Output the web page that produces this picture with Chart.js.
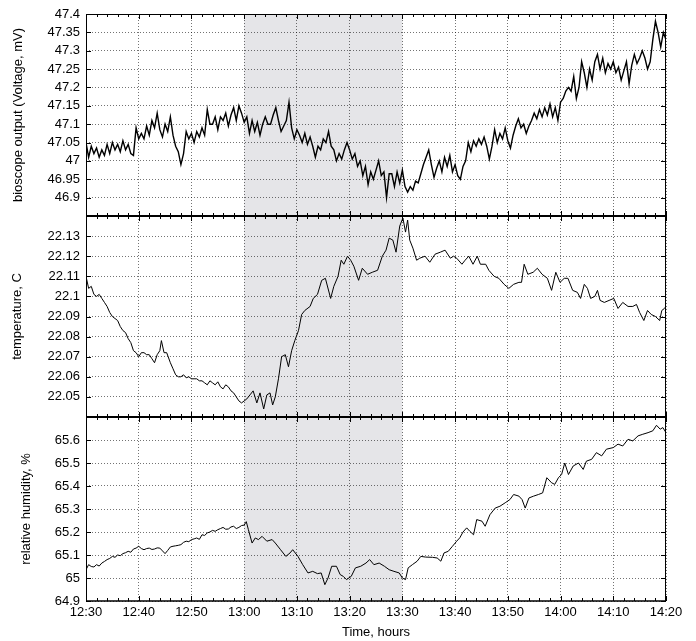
<!DOCTYPE html>
<html><head><meta charset="utf-8">
<script src="https://cdn.jsdelivr.net/npm/chart.js@4.4.0/dist/chart.umd.min.js"></script>
<style>
html,body{margin:0;padding:0;background:#fff;}
#wrap{position:relative;width:696px;height:641px;background:#fff;}
canvas{position:absolute;left:0;top:0;}
</style></head><body>
<div id="wrap">
<canvas id="c1" width="696" height="641"></canvas>
<canvas id="c2" width="696" height="641"></canvas>
<canvas id="c3" width="696" height="641"></canvas>
</div>
<script>
// ---- x axis (minutes after 12:30) ----
const xTickValues = [0,10,20,30,40,50,60,70,80,90,100,110];
const xTickLabels = ['12:30','12:40','12:50','13:00','13:10','13:20','13:30','13:40','13:50','14:00','14:10','14:20'];
const shadeStart = 30, shadeEnd = 60;   // 13:00 - 13:30
const minorStep = 2;

// ---- bioscope output (mV) ----
const voltTime = [0,0.5,1,1.5,2,2.5,3,3.5,4,4.5,5,5.5,6,6.5,7,7.5,8,8.5,9,9.5,10,10.5,11,11.5,12,12.5,13,13.5,14,14.5,15,15.5,16,16.5,17,17.5,18,18.5,19,19.5,20,20.5,21,21.5,22,22.5,23,23.5,24,24.5,25,25.5,26,26.5,27,27.5,28,28.5,29,29.5,30,30.5,31,31.5,32,32.5,33,33.5,34,34.5,35,35.5,36,36.5,37,37.5,38,38.5,39,39.5,40,40.5,41,41.5,42,42.5,43,43.5,44,44.5,45,45.5,46,46.5,47,47.5,48,48.5,49,49.5,50,50.5,51,51.5,52,52.5,53,53.5,54,54.5,55,55.5,56,56.5,57,57.5,58,58.5,59,59.5,60,60.5,61,61.5,62,62.5,63,63.5,64,64.5,65,65.5,66,66.5,67,67.5,68,68.5,69,69.5,70,70.5,71,71.5,72,72.5,73,73.5,74,74.5,75,75.5,76,76.5,77,77.5,78,78.5,79,79.5,80,80.5,81,81.5,82,82.5,83,83.5,84,84.5,85,85.5,86,86.5,87,87.5,88,88.5,89,89.5,90,90.5,91,91.5,92,92.5,93,93.5,94,94.5,95,95.5,96,96.5,97,97.5,98,98.5,99,99.5,100,100.5,101,101.5,102,102.5,103,103.5,104,104.5,105,105.5,106,106.5,107,107.5,108,108.5,109,109.5,110];
const voltValues = [
47.05,47.01,47.04,47.02,47.035,47.01,47.03,47.015,47.045,47.02,
47.05,47.03,47.045,47.025,47.055,47.03,47.045,47.02,47.015,47.09,
47.06,47.075,47.06,47.095,47.07,47.11,47.09,47.13,47.085,47.065,
47.1,47.08,47.12,47.07,47.04,47.025,46.99,47.02,47.08,47.06,
47.075,47.05,47.08,47.065,47.09,47.07,47.14,47.1,47.1,47.12,
47.085,47.12,47.11,47.13,47.095,47.125,47.145,47.11,47.15,47.13,
47.105,47.12,47.075,47.11,47.08,47.105,47.07,47.1,47.12,47.1,
47.1,47.125,47.145,47.11,47.08,47.095,47.11,47.16,47.09,47.06,
47.085,47.07,47.05,47.075,47.045,47.065,47.04,47.01,47.04,47.03,
47.06,47.05,47.08,47.04,47.03,47.0,47.02,47.005,47.03,47.05,
47.03,47.005,47.02,46.985,47.0,46.96,46.985,46.935,46.97,46.95,
46.975,47.0,46.96,46.97,46.9,46.965,46.965,46.93,46.97,46.94,
46.975,46.93,46.915,46.93,46.92,46.945,46.94,46.965,46.99,47.01,
47.03,46.99,46.955,46.98,47.0,46.97,47.01,46.985,47.015,46.97,
46.99,46.96,46.95,46.985,47.0,47.05,47.025,47.055,47.04,47.06,
47.045,47.065,47.04,47.005,47.04,47.085,47.05,47.075,47.06,47.09,
47.055,47.035,47.07,47.095,47.115,47.09,47.1,47.075,47.095,47.11,
47.13,47.115,47.14,47.12,47.145,47.125,47.155,47.12,47.145,47.11,
47.16,47.17,47.19,47.2,47.19,47.23,47.17,47.2,47.27,47.24,
47.2,47.25,47.22,47.27,47.29,47.25,47.28,47.24,47.265,47.25,
47.27,47.24,47.255,47.22,47.245,47.27,47.21,47.26,47.29,47.265,
47.28,47.3,47.28,47.25,47.27,47.33,47.38,47.35,47.31,47.35,
47.33];
const voltTicks = [46.9,46.95,47,47.05,47.1,47.15,47.2,47.25,47.3,47.35,47.4];

// ---- temperature, C ----
const tempTime = [0,0.5,1,1.5,2,2.5,3,3.5,4,4.5,5,5.5,6,6.5,7,7.5,8,8.5,9,9.5,10,10.5,11,11.5,12,12.5,13,13.5,14,14.3,14.8,15.3,16,16.5,17,17.5,18,18.5,19,19.5,20,20.5,21,21.5,22,22.5,23,23.5,24,24.5,25,25.5,26,26.5,27,27.5,28,28.5,29,29.5,30,30.5,31.1,31.7,32.4,33,33.7,34.3,34.9,35.4,35.9,36.5,37.1,37.8,38.4,39,39.6,40.3,40.9,41.5,42.5,43.1,43.9,44.7,45.4,46.4,47,47.8,48.4,48.9,49.6,50.2,50.8,51.7,52.4,53.4,54.3,55.3,56.2,56.9,57.5,58.2,58.8,59.5,60.1,60.6,61,61.4,62,62.7,63.3,64.3,65.2,66.2,67.2,68.1,69.1,69.7,70.3,71.3,71.9,72.6,73.4,74.2,74.8,75.8,76.4,77.4,78.3,79.3,80.2,81.1,82.1,82.6,83.1,83.8,84.8,85.6,86.5,87.5,88.3,89.1,89.9,90.7,91.4,92.3,93.2,93.8,94.5,95.1,95.7,96.5,97,97.5,98.3,99.2,100.1,100.9,101.8,102.8,103.7,104.4,105,105.8,106.5,107.2,108,108.8,109.2,109.7,110];
const tempValues = [22.110,22.104,22.105,22.101,22.100,22.101,22.099,22.097,22.095,22.092,22.090,22.089,22.088,22.085,22.083,22.082,22.079,22.077,22.073,22.072,22.070,22.072,22.072,22.071,22.071,22.069,22.067,22.071,22.073,22.078,22.072,22.072,22.067,22.064,22.061,22.060,22.060,22.061,22.0595,22.060,22.059,22.059,22.059,22.058,22.058,22.057,22.056,22.058,22.057,22.056,22.0575,22.055,22.054,22.056,22.055,22.053,22.052,22.050,22.048,22.047,22.048,22.049,22.051,22.053,22.047,22.052,22.044,22.051,22.052,22.046,22.050,22.059,22.070,22.071,22.065,22.073,22.078,22.083,22.091,22.093,22.095,22.099,22.101,22.108,22.109,22.099,22.105,22.110,22.118,22.116,22.120,22.118,22.115,22.108,22.114,22.111,22.112,22.113,22.120,22.123,22.129,22.128,22.122,22.135,22.139,22.132,22.138,22.128,22.124,22.118,22.119,22.120,22.117,22.121,22.122,22.123,22.119,22.120,22.119,22.116,22.118,22.120,22.116,22.120,22.116,22.116,22.113,22.110,22.109,22.106,22.104,22.106,22.107,22.107,22.116,22.111,22.112,22.114,22.111,22.109,22.103,22.112,22.107,22.109,22.109,22.103,22.102,22.099,22.106,22.104,22.099,22.100,22.103,22.098,22.097,22.098,22.099,22.094,22.097,22.095,22.095,22.096,22.092,22.088,22.093,22.091,22.090,22.088,22.093,22.094,22.095];
const tempTicks = [22.05,22.06,22.07,22.08,22.09,22.1,22.11,22.12,22.13];

// ---- relative humidity, % ----
const humTime = [0,0.5,1,1.5,2,2.5,3,3.5,4,4.5,5,5.5,6,6.5,7,7.5,8,8.5,9,9.5,10,10.5,11,11.5,12,12.5,13,13.5,14,14.5,15,15.5,16,16.5,17,17.5,18,18.5,19,19.5,20,20.5,21,21.5,22,22.5,23,23.5,24,24.5,25,25.5,26,26.5,27,27.5,28,28.5,29,29.5,30,30.4,30.8,31.5,32.1,32.7,33.4,34.3,35.3,35.9,36.9,37.9,38.7,39.2,40.2,41.1,42.1,43,43.9,44.6,45.3,45.9,46.6,47.5,48.2,48.8,49.4,50.3,51.1,52.1,53.1,53.8,54.6,55.6,56.6,57.5,58.4,59.4,60,60.6,61.1,61.9,62.8,63.5,64.4,65.7,66.6,67.3,67.9,68.7,69.5,70.3,70.9,71.5,72.2,72.8,73.5,74.1,75.1,75.7,76.6,77.6,78.5,79.5,80.4,81.1,82.1,82.7,83.3,84,84.9,85.8,86.6,87.4,88.3,88.9,89.6,90.2,90.8,91.5,92.4,93.4,94.3,94.9,95.9,96.8,97.8,98.7,100,100.9,101.8,102.8,103.7,104.7,105.6,106.6,107.5,108.2,108.9,109.4,110];
const humValues = [65.036,65.058,65.050,65.048,65.058,65.052,65.065,65.072,65.080,65.085,65.094,65.090,65.100,65.097,65.106,65.110,65.116,65.112,65.126,65.130,65.138,65.128,65.123,65.128,65.130,65.124,65.126,65.131,65.130,65.118,65.106,65.120,65.135,65.138,65.140,65.142,65.145,65.155,65.160,65.158,65.167,65.170,65.174,65.168,65.188,65.185,65.196,65.200,65.207,65.203,65.210,65.215,65.220,65.212,65.213,65.222,65.225,65.215,65.220,65.228,65.230,65.245,65.210,65.152,65.174,65.167,65.181,65.160,65.167,65.152,65.123,65.094,65.109,65.123,65.094,65.058,65.022,65.029,65.019,65.022,64.971,65.000,65.051,65.051,65.015,65.007,64.993,65.007,65.044,65.051,65.065,65.080,65.058,65.065,65.051,65.036,65.029,65.022,65.000,64.993,65.044,65.058,65.073,65.094,65.091,65.090,65.087,65.073,65.109,65.116,65.138,65.160,65.175,65.200,65.218,65.203,65.188,65.254,65.247,65.225,65.275,65.304,65.312,65.327,65.341,65.363,65.356,65.341,65.304,65.348,65.356,65.363,65.370,65.436,65.414,65.407,65.436,65.450,65.500,65.450,65.487,65.500,65.472,65.508,65.516,65.545,65.531,65.560,65.567,65.582,65.574,65.603,65.596,65.618,65.625,65.632,65.640,65.664,65.647,65.654,65.632];
const humTicks = [64.9,65,65.1,65.2,65.3,65.4,65.5,65.6];

const FONT = 'Liberation Sans, Arial, Helvetica, sans-serif';
Chart.defaults.font.family = FONT;
Chart.defaults.color = '#000';

const framePlugin = {
  id: 'frame',
  beforeDraw(chart) {
    const {ctx, chartArea: a, scales: {x}} = chart;
    const x0 = x.getPixelForValue(shadeStart), x1 = x.getPixelForValue(shadeEnd);
    ctx.save();
    ctx.fillStyle = '#e5e5e8';
    ctx.fillRect(x0, a.top, x1 - x0, a.bottom - a.top);
    ctx.restore();
  },
  afterDraw(chart) {
    const {ctx, chartArea: a, scales: {x, y}} = chart;
    const o = chart.options.plugins.frame;
    ctx.save();
    ctx.strokeStyle = '#000';
    ctx.lineWidth = 1;
    ctx.beginPath();
    for (let m = x.min; m <= x.max + 1e-9; m += minorStep) {
      const px = Math.round(x.getPixelForValue(m)) + 0.5;
      const len = (m % 10 === 0) ? 5 : 3;
      ctx.moveTo(px, a.top); ctx.lineTo(px, a.top + len);
      ctx.moveTo(px, a.bottom); ctx.lineTo(px, a.bottom - len);
    }
    y.ticks.forEach(t => {
      const py = Math.round(y.getPixelForValue(t.value)) + 0.5;
      ctx.moveTo(a.left, py); ctx.lineTo(a.left + 5, py);
      ctx.moveTo(a.right, py); ctx.lineTo(a.right - 5, py);
    });
    ctx.moveTo(a.left + 0.5, a.top); ctx.lineTo(a.left + 0.5, a.bottom);
    ctx.moveTo(a.right - 0.5, a.top); ctx.lineTo(a.right - 0.5, a.bottom);
    ctx.stroke();
    ctx.lineWidth = o.topWidth;
    ctx.beginPath(); ctx.moveTo(a.left, a.top + (o.topWidth === 1 ? 0.5 : 0)); ctx.lineTo(a.right, a.top + (o.topWidth === 1 ? 0.5 : 0)); ctx.stroke();
    ctx.lineWidth = o.bottomWidth;
    ctx.beginPath(); ctx.moveTo(a.left, a.bottom); ctx.lineTo(a.right, a.bottom); ctx.stroke();
    ctx.restore();
  }
};

function makePanel(id, p) {
  const gridStyle = {color: 'rgba(0,0,0,0.55)', lineWidth: 1, drawTicks: false};
  return new Chart(document.getElementById(id), {
    type: 'line',
    data: {
      datasets: [{
        data: p.time.map((t, i) => ({x: t, y: p.values[i]})),
        borderColor: '#000',
        borderWidth: p.lineWidth,
        pointRadius: 0,
        tension: 0,
        fill: false
      }]
    },
    options: {
      responsive: false,
      animation: false,
      events: [],
      layout: {padding: {top: p.padTop, bottom: p.padBottom, left: p.padLeft, right: 30}},
      plugins: {
        legend: {display: false},
        tooltip: {enabled: false},
        frame: {topWidth: p.topWidth, bottomWidth: p.bottomWidth}
      },
      scales: {
        x: {
          type: 'linear',
          min: 0, max: 110,
          afterBuildTicks: s => { s.ticks = xTickValues.map(v => ({value: v})); },
          afterFit: s => { s.height = p.showX ? 40 : 0; s.paddingLeft = 0; s.paddingRight = 0; },
          grid: gridStyle,
          border: {display: false, dash: [1, 2]},
          ticks: {
            display: p.showX,
            padding: 4,
            maxRotation: 0,
            autoSkip: false,
            font: {size: 13},
            callback: v => xTickLabels[xTickValues.indexOf(v)]
          },
          title: {
            display: p.showX,
            text: 'Time, hours',
            font: {size: 13},
            padding: {top: 0, bottom: 1}
          }
        },
        y: {
          type: 'linear',
          min: p.yMin, max: p.yMax,
          afterBuildTicks: s => { s.ticks = p.ticks.map(v => ({value: v})); },
          afterFit: s => { s.width = 86 - p.padLeft; s.paddingTop = 0; s.paddingBottom = 0; },
          grid: gridStyle,
          border: {display: false, dash: [1, 2]},
          ticks: {
            padding: 6,
            autoSkip: false,
            font: {size: 13},
            callback: v => String(v)
          },
          title: {
            display: true,
            text: p.title,
            font: {size: 13},
            padding: {top: 0, bottom: 0}
          }
        }
      }
    },
    plugins: [framePlugin]
  });
}

makePanel('c1', {time: voltTime, values: voltValues, yMin: 46.85, yMax: 47.4, ticks: voltTicks,
  title: 'bioscope output (Voltage, mV)', padTop: 14, padBottom: 425, padLeft: 11, showX: false,
  lineWidth: 1.4, topWidth: 1, bottomWidth: 2});
makePanel('c2', {time: tempTime, values: tempValues, yMin: 22.04, yMax: 22.14, ticks: tempTicks,
  title: 'temperature, C', padTop: 216, padBottom: 224, padLeft: 10, showX: false,
  lineWidth: 1, topWidth: 2, bottomWidth: 2});
makePanel('c3', {time: humTime, values: humValues, yMin: 64.9, yMax: 65.7, ticks: humTicks,
  title: 'relative humidity, %', padTop: 417, padBottom: 0, padLeft: 19, showX: true,
  lineWidth: 1, topWidth: 2, bottomWidth: 1.5});
</script>
</body></html>
